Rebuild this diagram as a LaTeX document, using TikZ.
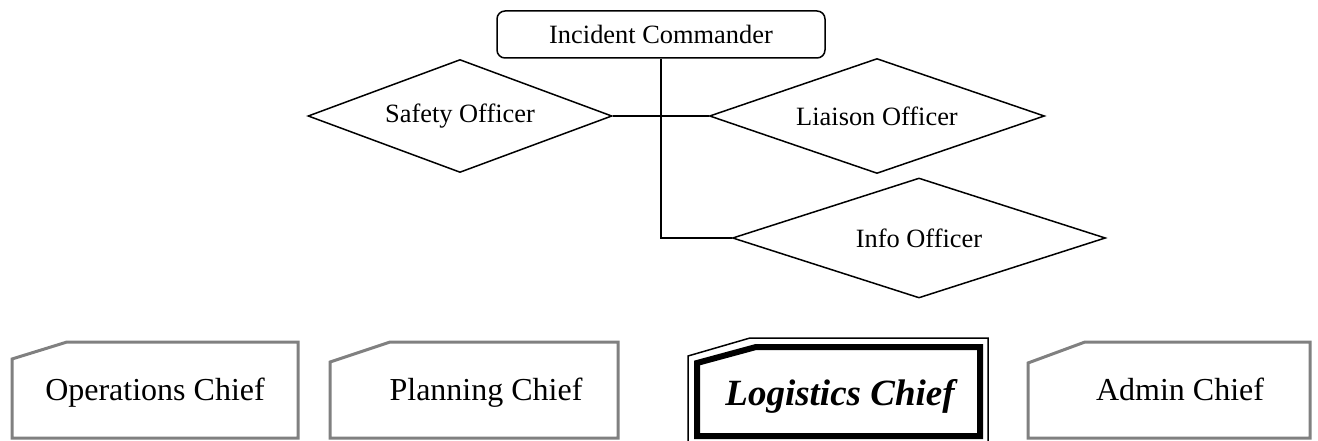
\documentclass[tikz,border=0pt]{standalone}
\usepackage{fontspec}
\setmainfont{Liberation Serif}
\usetikzlibrary{shapes.geometric}

\begin{document}
\begin{tikzpicture}[x=1pt,y=-1pt,
  officer/.style={draw,diamond,aspect=3,line width=1.5pt,inner sep=0pt,font=\fontsize{26.4}{30}\selectfont},
  chief/.style={draw=gray,line width=3pt},
  chieftext/.style={anchor=base,font=\fontsize{32}{38}\selectfont}]
\useasboundingbox (0,0) rectangle (1318,441);
% commander and staff
\node[draw,rounded corners=8pt,line width=1.5pt,minimum width=328pt,minimum height=47pt,font=\fontsize{26.4}{30}\selectfont] (ic) at (661,34.5) {Incident Commander};
\node[officer,minimum width=304pt,minimum height=113pt] (safety) at (460,116) {Safety Officer};
\node[officer,minimum width=335pt,minimum height=115pt] (liaison) at (877,116) {Liaison Officer};
\node[officer,minimum width=373pt,minimum height=120pt] (info) at (919,238) {Info Officer};
\draw[line width=1.5pt] (safety.east) -- (liaison.west);
\draw[line width=1.5pt] (ic.south) |- (info.west);
% section chiefs
\draw[chief] (12,359) -- (67,342) -- (298,342) -- (298,438) -- (12,438) -- cycle;
\node[chieftext] (ops) at (155,400) {Operations Chief};
\draw[chief] (330,362) -- (390,342) -- (618,342) -- (618,438) -- (330,438) -- cycle;
\node[chieftext] (plan) at (486,400) {Planning Chief};
\draw[line width=1.5pt] (688,446) -- (688,356) -- (750,338) -- (988,338) -- (988,446);
\draw[line width=6pt] (697,436) -- (697,363) -- (756,347) -- (980,347) -- (980,436) -- cycle;
\node[anchor=base,font=\fontsize{37}{44}\selectfont\bfseries\itshape] (log) at (840,405) {Logistics Chief};
\draw[chief] (1028,363) -- (1085,342) -- (1310,342) -- (1310,438) -- (1028,438) -- cycle;
\node[chieftext] (admin) at (1180,400) {Admin Chief};
\end{tikzpicture}
\end{document}
